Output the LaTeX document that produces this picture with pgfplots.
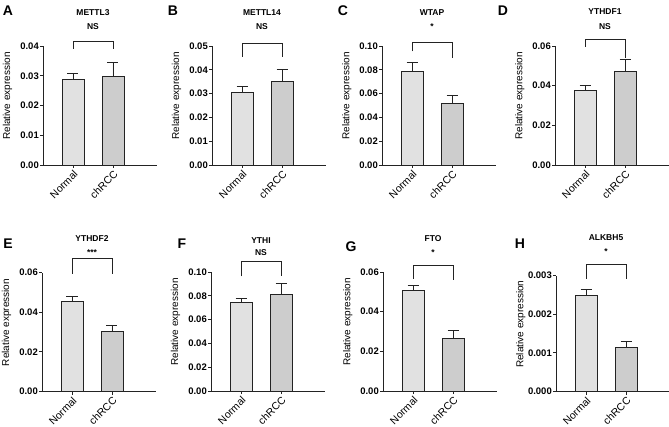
\documentclass[border=0pt]{standalone}
\usepackage{fontspec}
\setmainfont{Liberation Sans}
\usepackage{pgfplots}
\pgfplotsset{compat=1.18}
\definecolor{cN}{RGB}{225,225,225}
\definecolor{cC}{RGB}{205,205,205}
\definecolor{edge}{RGB}{35,35,35}
\newcommand{\tfont}{\bfseries\fontsize{8.5}{9}\selectfont}
\pgfplotsset{
 panel/.style={
  scale only axis, width=114pt, height=119pt, anchor=south west,
  xmin=-0.75, xmax=2.1, ymin=0,
  axis x line*=bottom, axis y line*=left,
  axis line style={draw=edge, line width=0.9pt},
  every tick/.style={draw=edge, line width=0.9pt},
  tick align=outside, major tick length=3pt,
  xtick={0,1}, xticklabels={Normal,chRCC},
  x tick label style={rotate=45, anchor=north east, font=\fontsize{10.5}{11}\selectfont, inner sep=1pt},
  y tick label style={font=\bfseries\fontsize{9.5}{10}\selectfont, inner xsep=1pt,
     /pgf/number format/fixed, /pgf/number format/fixed zerofill, /pgf/number format/precision=2},
  /pgf/number format/assume math mode=true,
  scaled y ticks=false,
  ylabel={Relative expression},
  ylabel style={font=\fontsize{10}{11}\selectfont, at={(axis description cs:-0.31,0.58)}, anchor=center},
  clip=false,
 }
}
\newcommand{\bars}[4]{%
 \addplot[ybar, bar width=22pt, bar shift=0pt, fill=cN, draw=edge, line width=0.9pt,
   error bars/.cd, y dir=plus, y explicit, error bar style={draw=edge, line width=0.9pt},
   error mark=-, error mark options={rotate=90, draw=edge, line width=0.9pt, mark size=5.5pt}]
   coordinates {(0,#1) +- (0,#2)};
 \addplot[ybar, bar width=22pt, bar shift=0pt, fill=cC, draw=edge, line width=0.9pt,
   error bars/.cd, y dir=plus, y explicit, error bar style={draw=edge, line width=0.9pt},
   error mark=-, error mark options={rotate=90, draw=edge, line width=0.9pt, mark size=5.5pt}]
   coordinates {(1,#3) +- (0,#4)};
}
\newcommand{\brk}[3]{\addplot[draw=edge, line width=0.8pt, mark=none] coordinates {(0,#2) (0,#1) (1,#1) (1,#3)};}
\newcommand{\ttl}[4]{%
 \node[font=\tfont, text height=1.5ex, text depth=0.25ex, yshift=#2] at (axis description cs:0.4386,1) {#1};
 \node[font=\tfont, text height=1.5ex, text depth=0.25ex, yshift=#4] at (axis description cs:0.4386,1) {#3};
}
\begin{document}
\begin{tikzpicture}
\useasboundingbox (0,0) rectangle (669pt,426pt);
\begin{scope}[every node/.style={font=\bfseries\fontsize{14}{15}\selectfont}]
\node at (8pt,415pt) {A};
\node at (173pt,415pt) {B};
\node at (343pt,415pt) {C};
\node at (503pt,415pt) {D};
\node at (8pt,182pt) {E};
\node at (182pt,182pt) {F};
\node at (351pt,179pt) {G};
\node at (520pt,182pt) {H};
\end{scope}
% A
\begin{axis}[panel, at={(43pt,261pt)}, ymax=0.04, ytick={0,0.01,0.02,0.03,0.04}]
\bars{0.0287}{0.0021}{0.0299}{0.0046}
\brk{0.0415}{0.039}{0.039}
\ttl{METTL3}{34pt}{NS}{20pt}
\end{axis}
% B
\begin{axis}[panel, at={(212pt,261pt)}, ymax=0.05, ytick={0,0.01,0.02,0.03,0.04,0.05}]
\bars{0.0305}{0.0023}{0.0353}{0.005}
\brk{0.0512}{0.0455}{0.0455}
\ttl{METTL14}{34pt}{NS}{20pt}
\end{axis}
% C
\begin{axis}[panel, at={(382pt,261pt)}, ymax=0.10, ytick={0,0.02,0.04,0.06,0.08,0.10}]
\bars{0.0784}{0.0076}{0.0521}{0.0065}
\brk{0.103}{0.0955}{0.0896}
\ttl{WTAP}{34pt}{*}{20pt}
\end{axis}
% D
\begin{axis}[panel, at={(555pt,261pt)}, ymax=0.06, ytick={0,0.02,0.04,0.06}]
\bars{0.0374}{0.0025}{0.047}{0.0061}
\brk{0.0633}{0.0597}{0.0538}
\ttl{YTHDF1}{35pt}{NS}{20pt}
\end{axis}
% E
\begin{axis}[panel, at={(42pt,34.5pt)}, ymax=0.06, ytick={0,0.02,0.04,0.06}]
\bars{0.0456}{0.0023}{0.0305}{0.003}
\brk{0.067}{0.0595}{0.059}
\ttl{YTHDF2}{34pt}{***}{20pt}
\end{axis}
% F
\begin{axis}[panel, at={(211pt,35pt)}, ymax=0.10, ytick={0,0.02,0.04,0.06,0.08,0.10}]
\bars{0.0747}{0.0034}{0.0815}{0.0092}
\brk{0.109}{0.0963}{0.0963}
\ttl{YTHI}{32pt}{NS}{20pt}
\end{axis}
% G
\begin{axis}[panel, at={(383pt,35pt)}, ymax=0.06, ytick={0,0.02,0.04,0.06}]
\bars{0.0509}{0.0024}{0.0266}{0.0039}
\brk{0.0632}{0.0566}{0.0558}
\ttl{FTO}{34pt}{*}{20pt}
\end{axis}
% H
\begin{axis}[panel, at={(556pt,34.5pt)}, height=116pt, ymax=0.003, ytick={0,0.001,0.002,0.003},
  y tick label style={/pgf/number format/precision=3}]
\bars{0.00248}{0.00016}{0.00114}{0.00016}
\brk{0.00329}{0.00291}{0.0029}
\ttl{ALKBH5}{38pt}{*}{24pt}
\end{axis}
\end{tikzpicture}
\end{document}
